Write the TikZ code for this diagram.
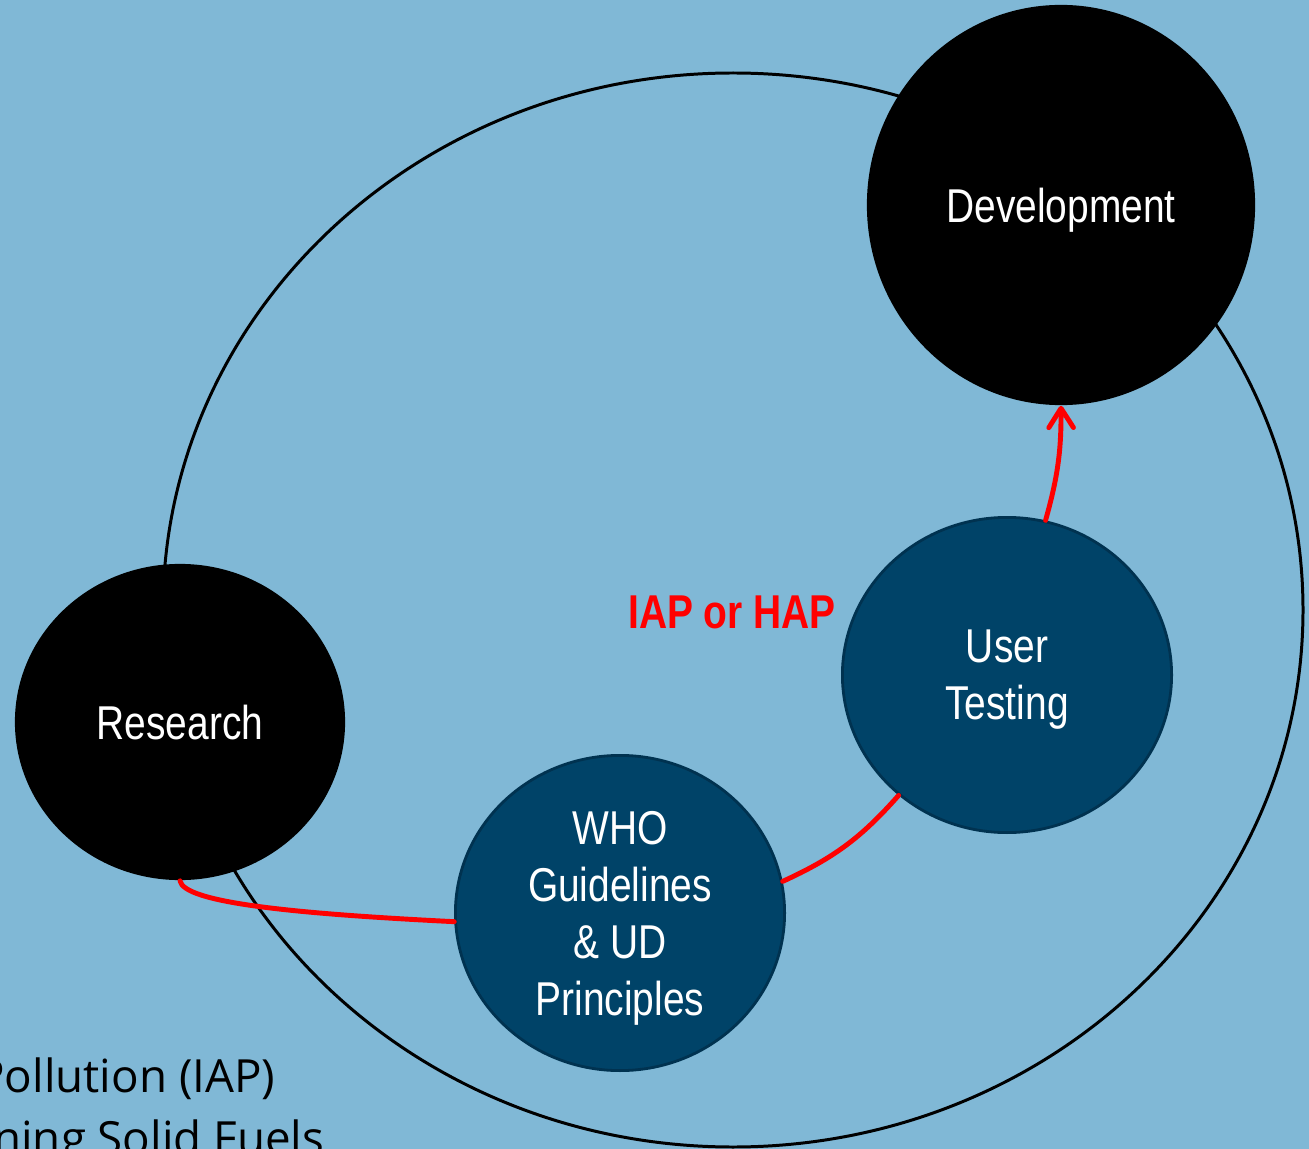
\documentclass[tikz,border=0pt]{standalone}
\usepackage{fontspec}
\newfontfamily\narrowsf[FakeStretch=0.82]{Liberation Sans}
\newfontfamily\bodysf{Open Sans}
\usetikzlibrary{shapes.geometric,arrows.meta}
\definecolor{skyblue}{RGB}{128,184,214}
\definecolor{deepteal}{RGB}{0,67,104}
\definecolor{tealedge}{RGB}{0,50,80}

\begin{document}
\begin{tikzpicture}[x=0.01cm,y=-0.01cm,
		stage/.style={ellipse,fill=black,text=white,inner sep=0pt,align=center,text depth=0pt,
			font=\narrowsf\fontsize{13.5}{16.2}\selectfont},
		substage/.style={stage,fill=deepteal,draw=tealedge,line width=0.8pt,
			minimum width=3.29cm,minimum height=3.15cm},
		flow/.style={red,line width=1.4pt,line cap=round},
		caption/.style={anchor=base east,inner sep=0pt,font=\bodysf\fontsize{13}{15}\selectfont}]
		\fill[skyblue] (0,0) rectangle (1309,1149);
		\useasboundingbox (0,0) rectangle (1309,1149);
		\clip (0,0) rectangle (1309,1149);
		% outer cycle
		\draw[line width=0.85pt] (733,610) ellipse [x radius=570, y radius=537];
		% stages
		\node[stage,minimum width=3.3cm,minimum height=3.16cm] (research) at (180,722) {Research};
		\node[stage,minimum width=3.88cm,minimum height=4cm] (dev) at (1061,205) {Development};
		\node[substage] (who) at (620,913) {WHO\\Guidelines\\\& UD\\Principles};
		\node[substage] (ut) at (1007,675) {User\\Testing};
		% red path
		\draw[flow] (research.south) .. controls +(4,22) and +(-160,-8) .. (who.183);
		\draw[flow] (who.11) to[bend right=12] (ut.228);
		\draw[flow,-{Straight Barb[length=5.5pt,width=7pt,round]}] (ut.76) to[bend right=8] (dev.south);
		\node[text=red,font=\narrowsf\bfseries\fontsize{13.5}{16.2}\selectfont] (hazard) at (732,612) {IAP or HAP};
		% cut-off caption
		\node[caption] (pollution) at (276,1092) {Pollution (IAP)};
		\node[caption] (fuels) at (325,1154) {ning Solid Fuels};
	\end{tikzpicture}
\end{document}
